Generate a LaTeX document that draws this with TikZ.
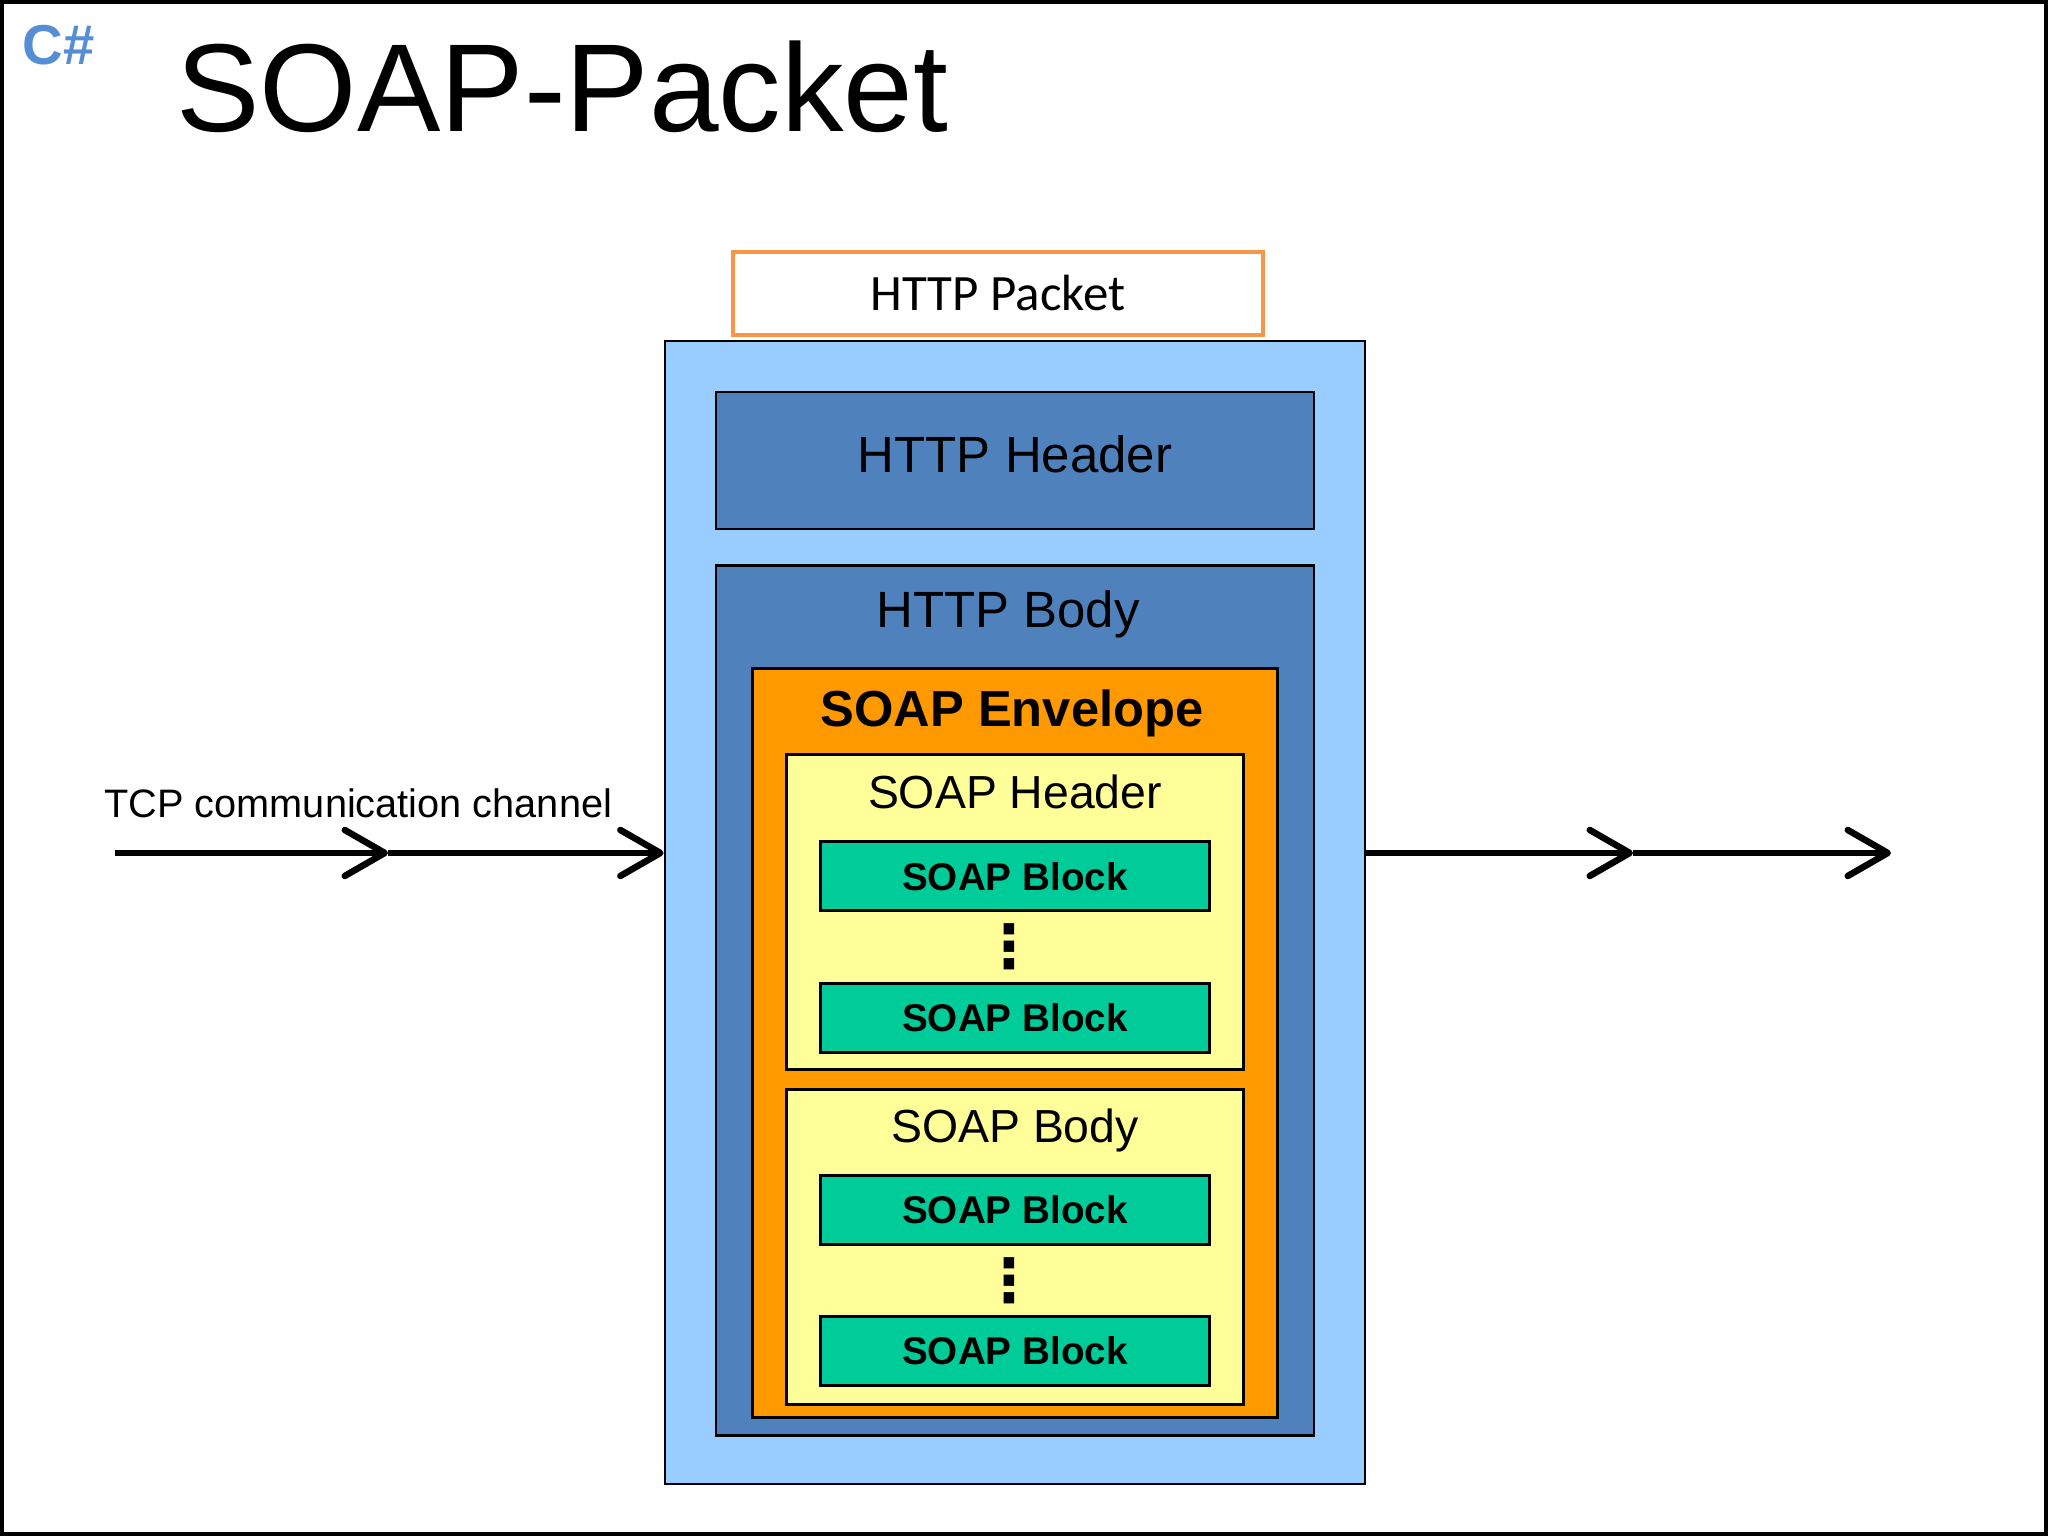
\documentclass[tikz,border=0pt]{standalone}
\usepackage{fontspec}
\setmainfont{Liberation Sans}
\newfontfamily\calibri{Carlito}
\newfontfamily\dejavu{DejaVu Sans}
\usetikzlibrary{positioning,arrows.meta,calc}

\definecolor{skyblue}{HTML}{99CCFF}
\definecolor{httpblue}{HTML}{4F81BD}
\definecolor{envorange}{HTML}{FF9900}
\definecolor{paleyellow}{HTML}{FFFF99}
\definecolor{blockgreen}{HTML}{00CC99}
\definecolor{tagorange}{HTML}{F79646}
\definecolor{csblue}{HTML}{558ED5}

\begin{document}
\begin{tikzpicture}[
        box/.style={draw, line width=0.8pt, inner sep=0pt},
        part/.style={box, minimum width=4.57cm, minimum height=3.15cm, fill=paleyellow},
        block/.style={box, fill=blockgreen, minimum width=3.89cm, minimum height=0.69cm,
            font=\fontsize{11}{13}\selectfont\bfseries},
        lbl/.style={inner sep=0pt},
        vdots/.style={inner sep=0pt, font=\dejavu\bfseries\fontsize{17}{17}\selectfont},
        chan/.style={line width=1.85pt, -{Straight Barb[length=0.4cm, width=0.46cm, round]}},
    ]
    \useasboundingbox (0,0) rectangle (20.48,15.36);
    \draw[line width=1pt] (0.02,0.02) rectangle (20.46,15.34);

    % Titles
    \node[anchor=base west, text=csblue, font=\fontsize{16}{18}\selectfont\bfseries] (lang) at (0.1,14.71) {C\#};
    \node[anchor=base west, font=\fontsize{35.6}{40}\selectfont] (title) at (1.64,14.04) {SOAP-Packet};

    % Nodes
    \node[box, fill=skyblue, minimum width=7cm, minimum height=11.43cm] (packet) at (10.15,6.235) {};
    \node[box, draw=tagorange, line width=1.1pt, fill=white, minimum width=5.3cm, minimum height=0.83cm,
        above=0.03cm of packet.north, xshift=-0.17cm, font=\calibri\fontsize{14.5}{17}\selectfont] (pkttag) {HTTP Packet};
    \node[box, fill=httpblue, minimum width=5.98cm, minimum height=1.37cm, below=0.51cm of packet.north,
        text depth=0.12cm, font=\fontsize{14.5}{17}\selectfont] (httphead) {HTTP Header};
    \node[box, fill=httpblue, minimum width=5.98cm, minimum height=8.7cm, below=0.34cm of httphead] (httpbody) {};
    \node[lbl, below=0.25cm of httpbody.north, xshift=-0.07cm, font=\fontsize{14.5}{17}\selectfont] (bodytxt) {HTTP Body};

    \node[box, fill=envorange, minimum width=5.25cm, minimum height=7.49cm, below=1.03cm of httpbody.north] (envelope) {};
    \node[lbl, below=0.22cm of envelope.north, xshift=-0.03cm, font=\fontsize{14.4}{17}\selectfont\bfseries] (envtxt) {SOAP Envelope};

    \node[part, below=0.86cm of envelope.north] (soaphead) {};
    \node[lbl, below=0.21cm of soaphead.north, font=\fontsize{13.2}{16}\selectfont] (headtxt) {SOAP Header};
    \node[block, below=0.87cm of soaphead.north] (blockA) {SOAP Block};
    \node[block, below=0.7cm of blockA] (blockB) {SOAP Block};
    \node[vdots, xshift=-0.06cm] (dotsA) at ($(blockA.south)!0.5!(blockB.north)$) {⋮};

    \node[part, below=0.17cm of soaphead] (soapbody) {};
    \node[lbl, below=0.2cm of soapbody.north, font=\fontsize{13.2}{16}\selectfont] (bodytxt2) {SOAP Body};
    \node[block, below=0.86cm of soapbody.north] (blockC) {SOAP Block};
    \node[block, below=0.69cm of blockC] (blockD) {SOAP Block};
    \node[vdots, xshift=-0.06cm] (dotsB) at ($(blockC.south)!0.5!(blockD.north)$) {⋮};

    \node[anchor=base west, font=\fontsize{11.3}{13}\selectfont] (tcptxt) at (0.92,7.18) {TCP communication channel};
    \coordinate (tcpin) at (1.15,6.83);
    \coordinate (tcpmid) at (3.88,6.83);
    \coordinate (outmid) at (16.33,6.83);
    \coordinate (outend) at (18.91,6.83);

    % Arrows
    \draw[chan] (tcpin) -- (tcpmid);
    \draw[chan] (tcpmid) -- (tcpmid -| packet.west);
    \draw[chan] (tcpin -| packet.east) -- (outmid);
    \draw[chan] (outmid) -- (outend);
\end{tikzpicture}
\end{document}
